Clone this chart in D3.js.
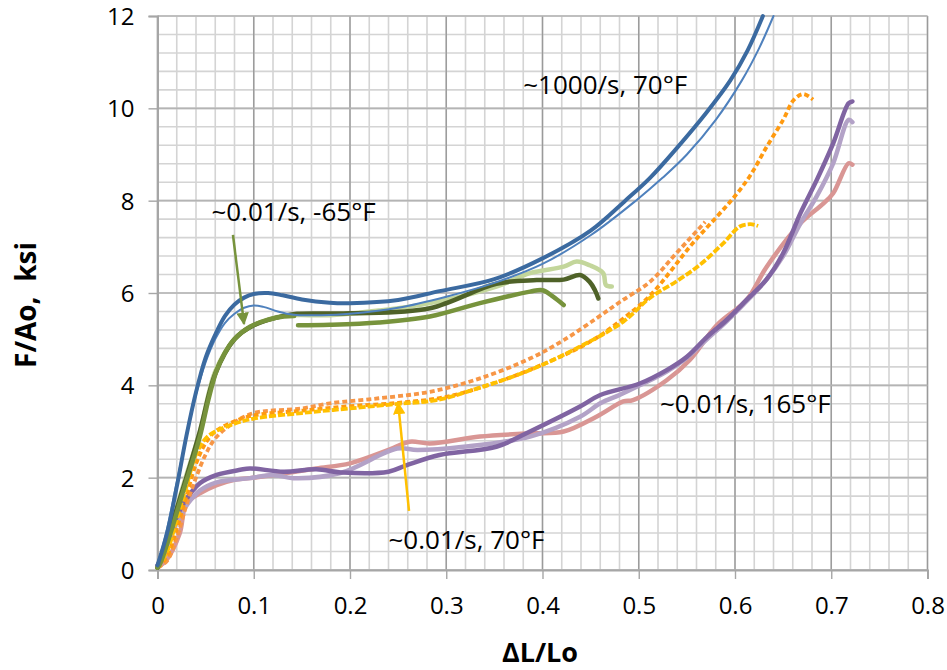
<!DOCTYPE html>
<html><head><meta charset="utf-8">
<script src="https://cdn.jsdelivr.net/npm/d3@7"></script>
<style>
body{margin:0;background:#fff;}
text{font-family:"Open Sans","DejaVu Sans",sans-serif;fill:#000;}
</style></head>
<body><svg id="c" width="947" height="670"></svg>
<script>
// ---- data (strain ΔL/Lo, stress F/Ao in ksi) ----
const xTicks = [0,0.1,0.2,0.3,0.4,0.5,0.6,0.7,0.8];
const yTicks = [0,2,4,6,8,10,12];
const xTitle = "\u0394L/Lo";
const yTitle = "F/Ao,  ksi";

const blueThick = [[0,0.1],[0.01,0.8],[0.02,1.8],[0.03,2.9],[0.04,3.85],[0.05,4.6],[0.06,5.1],[0.07,5.5],[0.08,5.75],[0.09,5.9],[0.1,5.98],[0.115,6.0],[0.13,5.95],[0.15,5.86],[0.179,5.79],[0.2,5.78],[0.25,5.85],[0.293,6.04],[0.35,6.3],[0.4,6.75],[0.45,7.35],[0.486,8.0],[0.512,8.5],[0.54,9.15],[0.57,9.9],[0.595,10.6],[0.613,11.25],[0.629,12.0]];
const blueThin = [[0,0.1],[0.01,0.9],[0.02,1.9],[0.03,2.9],[0.04,3.8],[0.05,4.5],[0.06,5.0],[0.07,5.35],[0.08,5.55],[0.09,5.68],[0.1,5.73],[0.11,5.7],[0.125,5.6],[0.141,5.53],[0.17,5.52],[0.2,5.55],[0.25,5.68],[0.3,5.92],[0.35,6.22],[0.4,6.63],[0.45,7.25],[0.497,8.0],[0.525,8.5],[0.55,9.0],[0.58,9.75],[0.607,10.6],[0.625,11.3],[0.64,12.0]];

const greenMed = [[0,0.05],[0.003,0.15],[0.015,0.9],[0.027,1.73],[0.044,2.89],[0.053,3.7],[0.0615,4.33],[0.07,4.7],[0.079,4.98],[0.096,5.27],[0.115,5.42],[0.131,5.49],[0.142,5.5],[null,null],[0.146,5.3],[0.179,5.31],[0.23,5.36],[0.283,5.49],[0.335,5.78],[0.387,6.03],[0.4,6.06],[0.411,5.92],[0.422,5.74]];
const greenLight = [[0,0.05],[0.015,1.0],[0.027,1.85],[0.044,3.0],[0.06,4.3],[0.08,5.0],[0.1,5.3],[0.13,5.5],[0.179,5.52],[0.23,5.62],[0.283,5.78],[0.352,6.14],[0.387,6.43],[0.422,6.57],[0.4355,6.68],[0.449,6.6],[0.463,6.43],[0.466,6.17],[0.472,6.14]];
const greenDark = [[0,0.05],[0.015,1.0],[0.027,1.8],[0.044,3.0],[0.06,4.25],[0.08,5.0],[0.1,5.3],[0.13,5.5],[0.145,5.55],[0.2,5.56],[0.283,5.67],[0.352,6.2],[0.394,6.28],[0.422,6.29],[0.439,6.39],[0.449,6.24],[0.4545,6.06],[0.458,5.88]];

const orangeLight = [[0,0.05],[0.01,0.2],[0.02,0.7],[0.03,1.4],[0.04,2.0],[0.05,2.5],[0.06,2.85],[0.08,3.2],[0.1,3.4],[0.15,3.5],[0.179,3.61],[0.23,3.72],[0.283,3.86],[0.335,4.15],[0.387,4.58],[0.422,4.98],[0.456,5.45],[0.48,5.8],[0.512,6.25],[0.539,6.86],[0.569,7.54]];
const orangeDark = [[0,0.05],[0.01,0.3],[0.02,0.9],[0.03,1.6],[0.04,2.3],[0.05,2.75],[0.06,3.0],[0.08,3.22],[0.1,3.35],[0.15,3.45],[0.2,3.55],[0.25,3.62],[0.3,3.75],[0.35,4.05],[0.4,4.45],[0.45,4.95],[0.484,5.45],[0.512,5.95],[0.557,7.1],[0.581,7.65],[0.6,8.1],[0.616,8.55],[0.633,9.17],[0.65,9.75],[0.661,10.18],[0.671,10.31],[0.681,10.19]];
const yellow = [[0,0.05],[0.01,0.4],[0.02,1.1],[0.03,1.8],[0.04,2.5],[0.05,2.85],[0.06,3.0],[0.08,3.17],[0.1,3.28],[0.15,3.4],[0.2,3.5],[0.25,3.6],[0.29,3.68],[0.335,3.95],[0.387,4.33],[0.439,4.84],[0.484,5.38],[0.512,5.9],[0.539,6.25],[0.564,6.62],[0.588,7.08],[0.605,7.44],[0.616,7.49],[0.624,7.45]];

const purple = [[0,0.1],[0.003,0.22],[0.015,0.9],[0.027,1.44],[0.044,1.88],[0.0615,2.06],[0.086,2.17],[0.096,2.2],[0.131,2.13],[0.165,2.18],[0.193,2.11],[0.24,2.13],[0.259,2.27],[0.293,2.49],[0.352,2.67],[0.387,3.0],[0.439,3.54],[0.46,3.79],[0.501,4.04],[0.529,4.33],[0.55,4.62],[0.571,5.05],[0.591,5.41],[0.612,5.85],[0.633,6.3],[0.65,6.86],[0.668,7.73],[0.685,8.45],[0.702,9.24],[0.718,10.11],[0.722,10.15]];
const purpleLight = [[0,0.1],[0.005,0.25],[0.015,0.8],[0.027,1.3],[0.044,1.72],[0.0615,1.9],[0.096,1.99],[0.12,2.06],[0.141,1.99],[0.19,2.1],[0.249,2.63],[0.27,2.6],[0.318,2.67],[0.387,2.89],[0.439,3.32],[0.46,3.61],[0.48,3.79],[0.501,4.0],[0.529,4.3],[0.55,4.6],[0.571,5.0],[0.591,5.38],[0.612,5.82],[0.633,6.3],[0.65,6.8],[0.668,7.51],[0.685,8.1],[0.702,8.81],[0.718,9.75],[0.722,9.7]];
const pink = [[0,0.05],[0.0095,0.22],[0.023,0.79],[0.03,1.44],[0.044,1.66],[0.0615,1.84],[0.079,1.95],[0.096,1.99],[0.131,2.09],[0.165,2.2],[0.2,2.31],[0.24,2.6],[0.262,2.78],[0.283,2.74],[0.335,2.89],[0.387,2.96],[0.422,3.0],[0.456,3.32],[0.484,3.65],[0.494,3.68],[0.529,4.11],[0.553,4.55],[0.581,5.3],[0.612,5.85],[0.633,6.57],[0.668,7.51],[0.692,7.94],[0.702,8.16],[0.718,8.81],[0.722,8.78]];

const labels = [
  {t:"~1000/s, 70\u00B0F", x:0.38, y:10.3},
  {t:"~0.01/s, -65\u00B0F", x:0.056, y:7.55},
  {t:"~0.01/s, 165\u00B0F", x:0.522, y:3.4},
  {t:"~0.01/s, 70\u00B0F", x:0.24, y:0.45}
];
const arrows = [
  {x1:0.0784, y1:7.26, x2:0.0899, y2:5.33, c:"#77933C"},
  {x1:0.2613, y1:1.28, x2:0.2500, y2:3.62, c:"#FFC000"}
];

// ---- layout ----
const svg = d3.select("#c");
const L=157.5, R=927.5, T=16, B=570;
const x = d3.scaleLinear().domain([0,0.8]).range([L,R]);
const y = d3.scaleLinear().domain([0,12]).range([B,T]);

// grid
const g = svg.append("g");
g.selectAll(".mx").data(d3.range(0,0.8001,0.02)).join("line")
  .attr("x1",d=>x(d)).attr("x2",d=>x(d)).attr("y1",T).attr("y2",B)
  .attr("stroke","#d4d4d4").attr("stroke-width",1.6);
g.selectAll(".my").data(d3.range(0,12.001,0.4)).join("line")
  .attr("x1",L).attr("x2",R).attr("y1",d=>y(d)).attr("y2",d=>y(d))
  .attr("stroke","#d4d4d4").attr("stroke-width",1.6);
g.selectAll(".Mx").data(xTicks).join("line")
  .attr("x1",d=>x(d)).attr("x2",d=>x(d)).attr("y1",T).attr("y2",B)
  .attr("stroke","#9a9a9a").attr("stroke-width",1.4);
g.selectAll(".My").data(yTicks).join("line")
  .attr("x1",L).attr("x2",R).attr("y1",d=>y(d)).attr("y2",d=>y(d))
  .attr("stroke","#b4b4b4").attr("stroke-width",1.6);

// axes
const xa = svg.append("g").attr("transform",`translate(0,${B})`)
  .call(d3.axisBottom(x).tickValues(xTicks).tickFormat(d=>d===0?"0":d3.format(".1f")(d)).tickSize(9).tickPadding(18));
const ya = svg.append("g").attr("transform",`translate(${L},0)`)
  .call(d3.axisLeft(y).tickValues(yTicks).tickFormat(d3.format("d")).tickSize(9).tickPadding(14));
[xa,ya].forEach(a=>{
  a.select(".domain").attr("stroke","#a6a6a6").attr("stroke-width",2);
  a.selectAll(".tick line").attr("stroke","#a6a6a6").attr("stroke-width",1.4);
  a.selectAll(".tick text").style("font-family","'Open Sans',sans-serif").style("font-size","24px").attr("fill","#000");
});
xa.selectAll(".tick text").attr("dy","0.71em");
ya.selectAll(".tick text").attr("dy","0.36em");

// series
const line = d3.line().defined(d=>d[0]!==null).x(d=>x(d[0])).y(d=>y(d[1])).curve(d3.curveCatmullRom.alpha(0.5));
const series = [
  {d:pink, c:"#D99694", w:4.5},
  {d:purpleLight, c:"#B3A2C7", w:4.5},
  {d:purple, c:"#8064A2", w:4.5},
  {d:orangeLight, c:"#F79646", w:3.8, dash:"5,3"},
  {d:orangeDark, c:"#FF9A10", w:3.8, dash:"5,3"},
  {d:yellow, c:"#FFC000", w:3.8, dash:"7,2"},
  {d:greenLight, c:"#C3D69B", w:4.5},
  {d:greenDark, c:"#4F6228", w:4.5},
  {d:greenMed, c:"#77933C", w:4.5},
  {d:blueThin, c:"#4F81BD", w:2},
  {d:blueThick, c:"#3B6AA0", w:4}
];
svg.append("g").selectAll("path").data(series).join("path")
  .attr("d",s=>line(s.d)).attr("fill","none")
  .attr("stroke",s=>s.c).attr("stroke-width",s=>s.w)
  .attr("stroke-dasharray",s=>s.dash||null)
  .attr("stroke-linejoin","round").attr("stroke-linecap",s=>s.dash?"butt":"round");

// arrows
const defs = svg.append("defs");
arrows.forEach((a,i)=>{
  defs.append("marker").attr("id","ah"+i).attr("viewBox","0 0 10 10")
    .attr("refX",9).attr("refY",5).attr("markerWidth",5).attr("markerHeight",5)
    .attr("orient","auto").attr("markerUnits","strokeWidth")
    .append("path").attr("d","M0,0L10,5L0,10z").attr("fill",a.c);
  svg.append("line").attr("x1",x(a.x1)).attr("y1",y(a.y1)).attr("x2",x(a.x2)).attr("y2",y(a.y2))
    .attr("stroke",a.c).attr("stroke-width",2.5).attr("marker-end",`url(#ah${i})`);
});

// annotations
svg.append("g").selectAll("text").data(labels).join("text")
  .attr("x",d=>x(d.x)).attr("y",d=>y(d.y))
  .style("font-size","26px").text(d=>d.t);

// titles
svg.append("text").attr("x",540).attr("y",662).attr("text-anchor","middle")
  .style("font-size","27px").style("font-weight","bold").text(xTitle);
svg.append("text").attr("transform","translate(36,305) rotate(-90)").attr("text-anchor","middle")
  .style("font-size","28px").style("font-weight","bold").style("white-space","pre").text(yTitle);
</script></body></html>
